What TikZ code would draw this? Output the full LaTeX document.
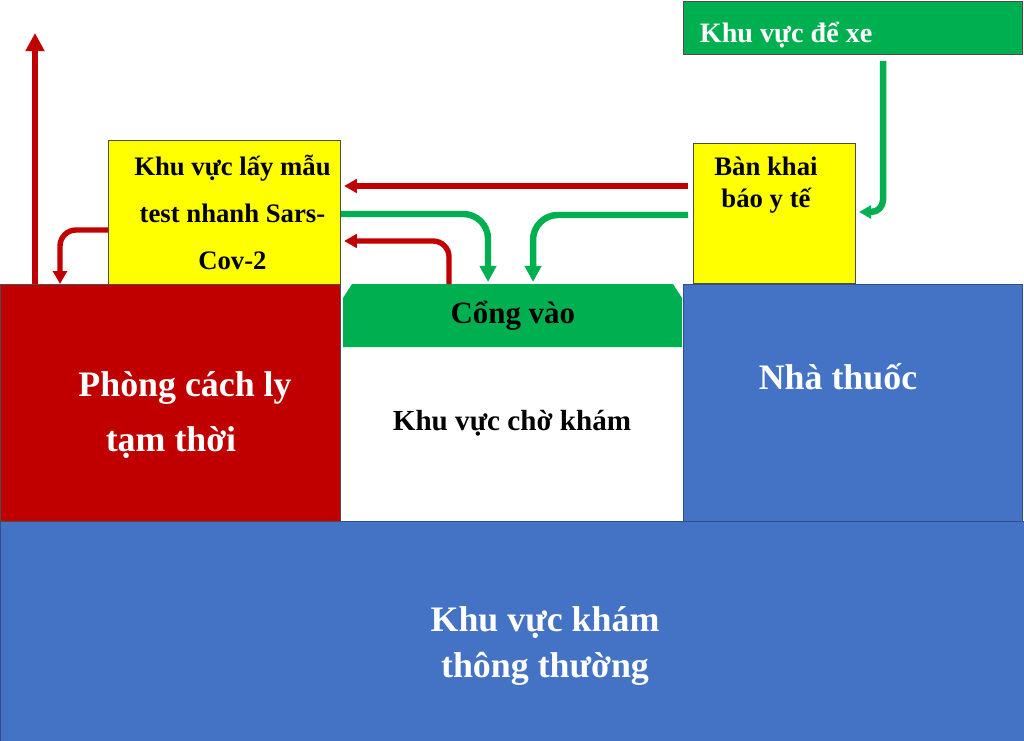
\documentclass[tikz,border=0pt]{standalone}
\usepackage{fontspec}
\setmainfont{Liberation Serif}
\usetikzlibrary{arrows.meta}

\definecolor{roomred}{HTML}{C00000}
\definecolor{roomgreen}{HTML}{00B050}
\definecolor{roomyellow}{HTML}{FFFF00}
\definecolor{roomblue}{HTML}{4472C4}

\tikzstyle{room} = [rectangle, anchor=north west,
inner sep=0pt,
draw=black!70,
line width=0.6pt]
\tikzstyle{yellowbox} = [room, fill=roomyellow]
\tikzstyle{redbox} = [room, fill=roomred]
\tikzstyle{bluebox} = [room, fill=roomblue, draw=roomblue!70!black]
\tikzstyle{greenbox} = [room, fill=roomgreen]
\tikzstyle{bigtext} = [text=white, font=\fontsize{25.5}{32.7}\bfseries\selectfont, align=center]
\tikzstyle{midtext} = [text=black, font=\fontsize{22}{26}\bfseries\selectfont]
\tikzstyle{smalltext} = [text=black, font=\fontsize{19}{22.8}\bfseries\selectfont, align=center]
\tikzstyle{redarrow} = [draw=roomred, line width=0.135cm,
-{Triangle[width=0.34cm, length=0.32cm]}, rounded corners=0.4cm]
\tikzstyle{greenarrow} = [draw=roomgreen, line width=0.16cm,
-{Triangle[width=0.4cm, length=0.4cm]}, rounded corners=0.62cm]

\begin{document}
\begin{tikzpicture}[x=0.025cm, y=-0.025cm]
\useasboundingbox (0,0) rectangle (1024,741);

% Rooms
\node (kham) [bluebox, minimum width=25.6cm, minimum height=5.5cm] at (0,521) {};
\node (cachly) [redbox, minimum width=8.5cm, minimum height=5.925cm] at (0,284) {};
\node (nhathuoc) [bluebox, minimum width=8.475cm, minimum height=5.925cm] at (683,284) {};
% gate with cut top corners
\fill [roomgreen] (343,298) -- (352,284) -- (673,284) -- (682,298) -- (682,347) -- (343,347) -- cycle;
\node (congvao) [rectangle, anchor=north west, inner sep=0pt,
minimum width=8.475cm, minimum height=1.575cm, midtext] at (343,284) {Cổng vào};
\node (laymau) [yellowbox, minimum width=5.8cm, minimum height=3.6cm,
smalltext, font=\fontsize{19}{33.4}\bfseries\selectfont] at (108,140)
{\hspace*{0.4cm}Khu vực lấy mẫu\\\hspace*{0.4cm}test nhanh Sars-\\\hspace*{0.4cm}Cov-2};
\node (bankhai) [yellowbox, minimum width=4.05cm, minimum height=3.5cm] at (693,143) {};
\node (xe) [greenbox, minimum width=8.475cm, minimum height=1.325cm] at (683,1) {};

% Labels
\node (bankhaitext) [smalltext] at (766,185) {Bàn khai\\báo y tế};
\node (xetext) [smalltext, text=white, font=\fontsize{20}{24}\bfseries\selectfont, anchor=west] at (695,35) {Khu vực để xe};
\node (cachlytext) [bigtext] at (185,388) {Phòng cách ly};
\node (tamthoitext) [bigtext] at (171,443) {tạm thời};
\node (chokham) [midtext, font=\fontsize{20.7}{25}\bfseries\selectfont] at (512,423) {Khu vực chờ khám};
\node (nhathuoctext) [bigtext] at (838,377) {Nhà thuốc};
\node (khamtext) [bigtext] at (545,646) {Khu vực khám\\thông thường};

% Flows
\coordinate (exit) at (35,33);
\draw [redarrow, -{Triangle[width=0.45cm, length=0.45cm]}] (exit |- cachly.north) -- (exit);
\draw [redarrow] (laymau.west |- 0,230) -| ([xshift=1.5cm]cachly.north west);
\draw [redarrow] ([xshift=-0.12cm]bankhai.west |- 0,186) -- ([xshift=0.08cm]laymau.east |- 0,186);
\draw [greenarrow] (laymau.east |- 0,214) -| ([xshift=3.625cm, yshift=0.05cm]congvao.north west);
\draw [redarrow] ([xshift=2.65cm]congvao.north west) |- ([xshift=0.08cm]laymau.east |- 0,241);
\draw [greenarrow] ([xshift=-0.12cm]bankhai.west |- 0,215) -| ([xshift=4.75cm, yshift=0.05cm]congvao.north west);
\draw [greenarrow, rounded corners=0.3cm, -{Triangle[width=0.32cm, length=0.3cm]}] ([xshift=5cm, yshift=-0.15cm]xe.south west) |- ([xshift=0.08cm]bankhai.east |- 0,212);

\end{tikzpicture}
\end{document}
